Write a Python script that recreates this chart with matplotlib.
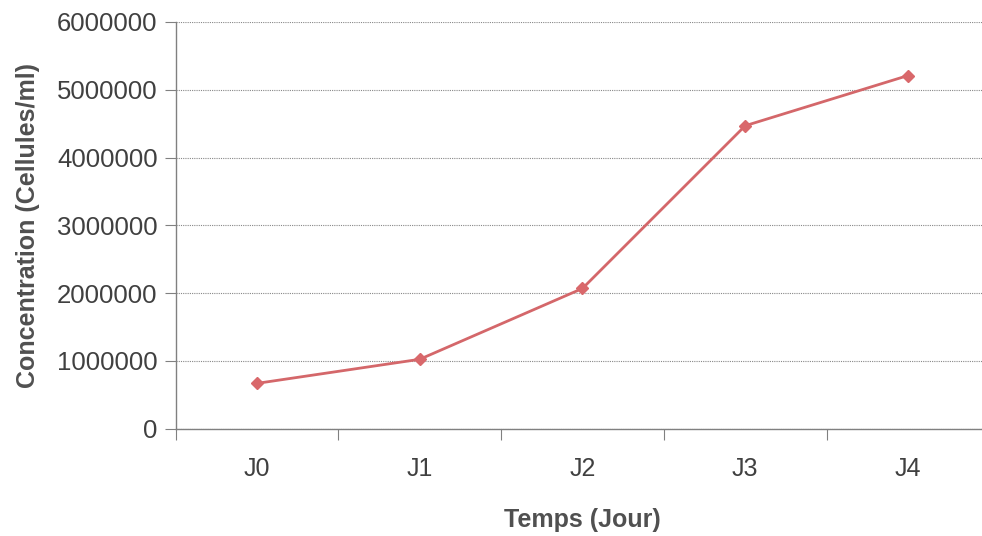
import matplotlib
matplotlib.use("Agg")
import matplotlib.pyplot as plt
import numpy as np

categories = ["J0", "J1", "J2", "J3", "J4"]
values = [670000, 1025000, 2070000, 4470000, 5210000]
yticks = [0, 1000000, 2000000, 3000000, 4000000, 5000000, 6000000]

plt.rcParams['font.family'] = ['Liberation Sans', 'DejaVu Sans']

fig = plt.figure(figsize=(9.82, 5.36), dpi=100)
ax = fig.add_axes([0.1788, 0.2, 0.8287, 0.759])

x = np.arange(len(categories))
ax.plot(x, values, color="#d4676a", lw=2, marker="D", markersize=6,
        markerfacecolor="#d9686b", markeredgecolor="#d9686b", zorder=3, clip_on=False)

ax.set_xlim(-0.5, len(categories) - 0.5)
ax.set_ylim(0, 6000000)
ax.set_yticks(yticks)
ax.set_yticklabels([str(v) for v in yticks])
ax.set_xticks(np.arange(-0.5, len(categories), 1.0))
ax.set_xticklabels([])
ax.set_xticks(x, minor=True)
ax.set_xticklabels(categories, minor=True)

ax.tick_params(axis='x', which='major', length=8, color="#808080", direction='out')
ax.tick_params(axis='x', which='minor', length=0, pad=20, labelsize=18, labelcolor="#404040")
ax.tick_params(axis='y', length=8, color="#808080", direction='out', pad=5,
               labelsize=18.5, labelcolor="#404040")

ax.grid(axis='y', linestyle=(0, (1, 1)), color="#888888", lw=0.8)
ax.set_axisbelow(True)
for s in ["top", "right"]:
    ax.spines[s].set_visible(False)
for s in ["left", "bottom"]:
    ax.spines[s].set_color("#808080")
    ax.spines[s].set_linewidth(1.0)

ax.set_ylabel("Concentration (Cellules/ml)", fontsize=18, fontweight='bold', color="#505050", labelpad=12)
ax.set_xlabel("Temps (Jour)", fontsize=18, fontweight='bold', color="#505050", labelpad=20)

fig.savefig("out.png", dpi=100)
